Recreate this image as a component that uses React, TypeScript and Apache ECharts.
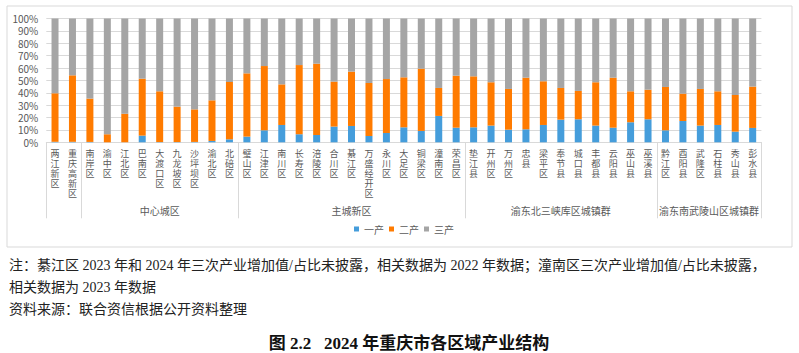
import React, { useEffect, useRef } from 'react';
import * as echarts from 'echarts';

const categories = ['两江新区', '重庆高新区', '南岸区', '渝中区', '江北区', '巴南区', '大渡口区', '九龙坡区', '沙坪坝区', '渝北区', '北碚区', '璧山区', '江津区', '南川区', '长寿区', '涪陵区', '合川区', '綦江区', '万盛经开区', '永川区', '大足区', '铜梁区', '潼南区', '荣昌区', '垫江县', '开州区', '万州区', '忠县', '梁平区', '奉节县', '城口县', '丰都县', '云阳县', '巫山县', '巫溪县', '黔江区', '酉阳县', '武隆区', '石柱县', '秀山县', '彭水县'];

const primary = [0.4, 0.4, 0.3, 0, 0, 5.4, 0.2, 0.2, 0.3, 1.1, 2.4, 4.6, 9.7, 14.0, 6.5, 5.9, 12.7, 13.2, 5.1, 7.5, 12.1, 9.2, 21.3, 11.8, 12.1, 13.5, 10.2, 10.5, 14.0, 18.3, 18.6, 13.5, 11.8, 16.2, 18.6, 9.7, 17.2, 13.5, 14.0, 8.6, 11.6];

const secondary = [39.2, 53.7, 35.0, 6.5, 23.1, 46.0, 41.0, 28.6, 26.3, 32.8, 46.3, 51.1, 51.9, 32.8, 55.9, 57.6, 36.3, 43.9, 42.8, 43.6, 40.4, 50.3, 22.6, 42.0, 41.2, 35.0, 32.9, 41.7, 35.3, 25.6, 22.9, 35.0, 40.4, 25.0, 23.9, 35.0, 22.1, 29.6, 27.2, 29.6, 33.4];

const tertiary = [60.4, 45.9, 64.7, 93.5, 76.9, 48.6, 58.8, 71.2, 73.4, 66.1, 51.3, 44.3, 38.4, 53.2, 37.6, 36.5, 51.0, 42.9, 52.1, 48.9, 47.5, 40.5, 56.1, 46.2, 46.7, 51.5, 56.9, 47.8, 50.7, 56.1, 58.5, 51.5, 47.8, 58.8, 57.5, 55.3, 60.7, 56.9, 58.8, 61.8, 55.0];

const seriesNames = ['一产', '二产', '三产'];
const groupNames = ['', '中心城区', '主城新区', '渝东北三峡库区城镇群', '渝东南武陵山区城镇群'];
const groupSizes = [2, 9, 13, 11, 6];

const noteLines = [
  '注：綦江区 2023 年和 2024 年三次产业增加值/占比未披露，相关数据为 2022 年数据；潼南区三次产业增加值/占比未披露，',
  '相关数据为 2023 年数据',
  '资料来源：联合资信根据公开资料整理',
];
const figureTitle = '图 2.2   2024 年重庆市各区域产业结构';

export default function App() {
  const ref = useRef<HTMLDivElement>(null);

  useEffect(() => {
    const chart = echarts.init(ref.current!, undefined, { renderer: 'svg' });
    const font = '"Noto Sans CJK SC", sans-serif';
    const serifFont = '"Liberation Serif", "Noto Sans CJK SC", serif';
    const labelColor = '#595959';

    chart.setOption({
      animation: false,
      textStyle: { fontFamily: font },
      grid: { left: 46.3, right: 37.6, top: 18.5, bottom: 210.7, containLabel: false },
      legend: {
        data: seriesNames,
        left: 354,
        top: 224,
        padding: 0,
        itemWidth: 5,
        itemHeight: 5,
        itemGap: 5,
        icon: 'rect',
        textStyle: { fontSize: 10, color: labelColor, fontFamily: font },
      },
      xAxis: {
        type: 'category',
        data: categories,
        axisLine: { lineStyle: { color: '#d9d9d9' } },
        axisTick: { show: false },
        axisLabel: {
          interval: 0,
          fontSize: 9,
          lineHeight: 10,
          color: labelColor,
          margin: 6,
          formatter: (v: string) => v.split('').join('\n'),
        },
      },
      yAxis: {
        type: 'value',
        min: 0,
        max: 100,
        interval: 10,
        axisLine: { show: false },
        axisTick: { show: false },
        axisLabel: { formatter: '{value}%', fontSize: 10, color: labelColor, margin: 8, fontFamily: font },
        splitLine: { lineStyle: { color: '#d9d9d9' } },
      },
      series: [
        { name: seriesNames[0], type: 'bar', stack: 'total', barWidth: 7, data: primary, itemStyle: { color: '#459ddb' } },
        { name: seriesNames[1], type: 'bar', stack: 'total', barWidth: 7, data: secondary, itemStyle: { color: '#ff7b00' } },
        { name: seriesNames[2], type: 'bar', stack: 'total', barWidth: 7, data: tertiary, itemStyle: { color: '#a5a5a5' } },
      ],
    });

    const c0 = chart.convertToPixel({ xAxisIndex: 0 }, categories[0]) as number;
    const c1 = chart.convertToPixel({ xAxisIndex: 0 }, categories[1]) as number;
    const step = c1 - c0;
    const yBase = chart.convertToPixel({ yAxisIndex: 0 }, 0) as number;
    const boundary = (k: number) => c0 + (k - 0.5) * step;

    const graphics: any[] = [
      {
        type: 'rect',
        shape: { x: 7, y: 6, width: 785, height: 241 },
        style: { fill: 'none', stroke: '#d9d9d9', lineWidth: 1 },
        silent: true,
      },
    ];
    let start = 0;
    const bounds: number[] = [0];
    groupSizes.forEach((s) => {
      start += s;
      bounds.push(start);
    });
    bounds.forEach((b) => {
      const x = Math.round(boundary(b)) + 0.5;
      graphics.push({
        type: 'line',
        shape: { x1: x, y1: yBase, x2: x, y2: yBase + 76 },
        style: { stroke: '#d9d9d9', lineWidth: 1 },
        silent: true,
      });
    });
    groupNames.forEach((name, i) => {
      if (!name) return;
      const xm = (boundary(bounds[i]) + boundary(bounds[i + 1])) / 2;
      graphics.push({
        type: 'text',
        x: xm,
        y: 210.7,
        style: { text: name, fontSize: 10, fill: labelColor, fontFamily: font, align: 'center', verticalAlign: 'middle' },
        silent: true,
      });
    });
    const noteY = [265, 287, 309];
    noteLines.forEach((t, i) => {
      graphics.push({
        type: 'text',
        x: 9,
        y: noteY[i],
        style: { text: t, fontSize: 14, fill: '#222', fontFamily: serifFont, align: 'left', verticalAlign: 'middle' },
        silent: true,
      });
    });
    graphics.push({
      type: 'text',
      x: 409,
      y: 343,
      style: { text: figureTitle, fontSize: 17, fontWeight: 'bold', fill: '#111', fontFamily: serifFont, align: 'center', verticalAlign: 'middle' },
      silent: true,
    });

    chart.setOption({ graphic: graphics });

    return () => chart.dispose();
  }, []);

  return <div ref={ref} style={{ position: 'absolute', left: 0, top: 0, width: 799, height: 353, background: '#fff' }} />;
}
